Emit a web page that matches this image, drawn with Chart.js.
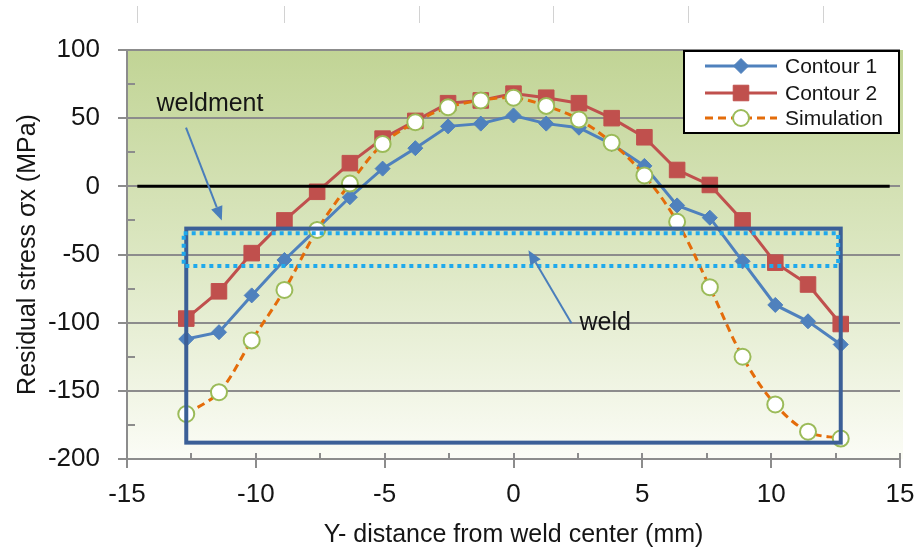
<!DOCTYPE html>
<html>
<head>
<meta charset="utf-8">
<title>Residual stress across weld</title>
<script src="https://cdn.jsdelivr.net/npm/chart.js@4.4.1/dist/chart.umd.min.js"></script>
<style>
  html, body { margin: 0; padding: 0; background: #fff; }
  #wrap { width: 917px; height: 560px; }
</style>
</head>
<body>
<div id="wrap"><canvas id="stressChart"></canvas></div>
<script>
// measurement positions across the plate (mm)
const distance = [-12.7, -11.43, -10.16, -8.89, -7.62, -6.35, -5.08, -3.81, -2.54, -1.27, 0,
                  1.27, 2.54, 3.81, 5.08, 6.35, 7.62, 8.89, 10.16, 11.43, 12.7];
// residual stress sigma-x (MPa)
const contour1 = [-112, -107, -80, -54, -31, -8, 13, 28, 44, 46, 52, 46, 43, 31, 15, -14, -23, -55, -87, -99, -116];
const contour2 = [-97, -77, -49, -25, -4, 17, 35, 48, 61, 63, 68, 65, 61, 50, 36, 12, 1, -25, -56, -72, -101];
const simulation = [-167, -151, -113, -76, -32, 2, 31, 47, 58, 63, 65, 59, 49, 32, 8, -26, -74, -125, -160, -180, -185];

const xTicks = [-15, -10, -5, 0, 5, 10, 15];
const yTicks = [-200, -150, -100, -50, 0, 50, 100];
const xMinorTicks = [-12.5, -7.5, -2.5, 2.5, 7.5, 12.5];
const yMinorTicks = [-175, -125, -75, -25, 25, 75];

const FONT = "'Liberation Sans', Arial, sans-serif";
const GREY = '#8c8c8c';
const TEXT = '#151515';

const toPoints = (ys) => distance.map((x, i) => ({ x: x, y: ys[i] }));

// shaded plot area plus the faint marks along the top edge
const plotBackground = {
  id: 'plotBackground',
  beforeDraw(chart) {
    const { ctx, chartArea: a } = chart;
    ctx.save();
    const g = ctx.createLinearGradient(0, a.top, 0, a.bottom);
    g.addColorStop(0, '#c1d495');
    g.addColorStop(0.5, '#dce7c2');
    g.addColorStop(1, '#fbfcf6');
    ctx.fillStyle = g;
    ctx.fillRect(a.left, a.top, a.right - a.left + 3, a.bottom - a.top);

    ctx.strokeStyle = '#d2d2d2';
    ctx.lineWidth = 1;
    [137, 284, 419, 553, 688, 823].forEach((px) => {
      ctx.beginPath();
      ctx.moveTo(px + 0.5, 6);
      ctx.lineTo(px + 0.5, 23);
      ctx.stroke();
    });
    ctx.restore();
  }
};

// minor tick marks, drawn inside the axes
const minorTicks = {
  id: 'minorTicks',
  beforeDatasetsDraw(chart) {
    const { ctx, scales: { x, y }, chartArea: a } = chart;
    ctx.save();
    ctx.strokeStyle = GREY;
    ctx.lineWidth = 2;
    ctx.beginPath();
    xMinorTicks.concat(xTicks).forEach((v) => {
      const px = Math.round(x.getPixelForValue(v));
      ctx.moveTo(px, a.bottom);
      ctx.lineTo(px, a.bottom - 6);
    });
    yMinorTicks.forEach((v) => {
      const py = Math.round(y.getPixelForValue(v));
      ctx.moveTo(a.left, py);
      ctx.lineTo(a.left + 8, py);
    });
    ctx.stroke();
    ctx.restore();
  }
};

function drawArrow(ctx, x1, y1, x2, y2) {
  const ang = Math.atan2(y2 - y1, x2 - x1);
  const head = 14, half = 6;
  const bx = x2 - head * Math.cos(ang);
  const by = y2 - head * Math.sin(ang);
  ctx.beginPath();
  ctx.moveTo(x1, y1);
  ctx.lineTo(bx, by);
  ctx.stroke();
  ctx.beginPath();
  ctx.moveTo(x2, y2);
  ctx.lineTo(bx + half * Math.sin(ang), by - half * Math.cos(ang));
  ctx.lineTo(bx - half * Math.sin(ang), by + half * Math.cos(ang));
  ctx.closePath();
  ctx.fill();
}

function drawMarker(ctx, ds, cx, cy) {
  const r = ds.pointRadius;
  ctx.save();
  ctx.setLineDash([]);
  ctx.fillStyle = ds.pointBackgroundColor;
  ctx.strokeStyle = ds.pointBorderColor;
  ctx.lineWidth = ds.pointBorderWidth;
  ctx.beginPath();
  if (ds.pointStyle === 'rectRot') {
    ctx.moveTo(cx - r, cy);
    ctx.lineTo(cx, cy - r);
    ctx.lineTo(cx + r, cy);
    ctx.lineTo(cx, cy + r);
    ctx.closePath();
  } else if (ds.pointStyle === 'rect') {
    const s = r * Math.SQRT1_2;
    ctx.rect(cx - s, cy - s, 2 * s, 2 * s);
  } else {
    ctx.arc(cx, cy, r, 0, Math.PI * 2);
  }
  ctx.fill();
  ctx.stroke();
  ctx.restore();
}

// zero line, weld / weldment outlines, callouts and the legend box
const overlays = {
  id: 'overlays',
  afterDatasetsDraw(chart) {
    const { ctx, scales: { x, y }, chartArea: a } = chart;
    const X = (v) => x.getPixelForValue(v);
    const Y = (v) => y.getPixelForValue(v);
    ctx.save();

    // zero stress line
    ctx.strokeStyle = '#000';
    ctx.lineWidth = 3;
    ctx.beginPath();
    ctx.moveTo(X(-14.6), Y(0));
    ctx.lineTo(X(14.6), Y(0));
    ctx.stroke();

    // weldment outline
    ctx.strokeStyle = '#3b5f97';
    ctx.lineWidth = 4;
    ctx.strokeRect(X(-12.7), Y(-31), X(12.7) - X(-12.7), Y(-188) - Y(-31));

    // weld outline, dotted
    ctx.strokeStyle = '#1fa9ec';
    ctx.lineWidth = 4;
    ctx.setLineDash([4, 4]);
    ctx.strokeRect(X(-12.8), Y(-34.5), X(12.6) - X(-12.8), Y(-58.5) - Y(-34.5));
    ctx.setLineDash([]);

    // callouts
    ctx.strokeStyle = '#4a7ebb';
    ctx.fillStyle = '#4a7ebb';
    ctx.lineWidth = 2;
    drawArrow(ctx, X(-12.71), Y(43), X(-11.32), Y(-25));
    drawArrow(ctx, X(2.25), Y(-100.4), X(0.58), Y(-46.9));

    ctx.fillStyle = TEXT;
    ctx.font = '25px ' + FONT;
    ctx.textBaseline = 'middle';
    ctx.textAlign = 'center';
    ctx.fillText('weldment', X(-11.78), Y(60));
    ctx.textAlign = 'left';
    ctx.fillText('weld', X(2.56), Y(-100.4));

    // legend
    const lx = a.right - 216, ly = a.top + 1, lw = 215, lh = 82;
    ctx.fillStyle = '#fff';
    ctx.fillRect(lx, ly, lw, lh);
    ctx.strokeStyle = '#000';
    ctx.lineWidth = 2;
    ctx.strokeRect(lx, ly, lw, lh);
    const rows = [ly + 15, ly + 42, ly + 67];
    chart.data.datasets.forEach((ds, i) => {
      const cy = rows[i];
      ctx.strokeStyle = ds.borderColor;
      ctx.lineWidth = ds.borderWidth;
      ctx.setLineDash(ds.borderDash || []);
      ctx.beginPath();
      ctx.moveTo(lx + 21, cy);
      ctx.lineTo(lx + 93, cy);
      ctx.stroke();
      ctx.setLineDash([]);
      drawMarker(ctx, ds, lx + 57, cy);
      ctx.fillStyle = TEXT;
      ctx.font = '21px ' + FONT;
      ctx.textAlign = 'left';
      ctx.textBaseline = 'middle';
      ctx.fillText(ds.label, lx + 101, cy + 1);
    });
    ctx.restore();
  }
};

new Chart(document.getElementById('stressChart'), {
  type: 'line',
  data: {
    datasets: [
      {
        label: 'Contour 1',
        data: toPoints(contour1),
        borderColor: '#4f81bd',
        borderWidth: 3,
        pointStyle: 'rectRot',
        pointRadius: 7.5,
        pointBackgroundColor: '#4f81bd',
        pointBorderColor: '#4f81bd',
        pointBorderWidth: 1,
        tension: 0,
        order: 3,
      },
      {
        label: 'Contour 2',
        data: toPoints(contour2),
        borderColor: '#c0504d',
        borderWidth: 3,
        pointStyle: 'rect',
        pointRadius: 11,
        pointBackgroundColor: '#c0504d',
        pointBorderColor: '#c0504d',
        pointBorderWidth: 1,
        tension: 0,
        order: 2,
      },
      {
        label: 'Simulation',
        data: toPoints(simulation),
        borderColor: '#e46c0a',
        borderWidth: 3,
        borderDash: [8, 5],
        pointStyle: 'circle',
        pointRadius: 8,
        pointBackgroundColor: '#ffffff',
        pointBorderColor: '#9bbb59',
        pointBorderWidth: 2,
        tension: 0.35,
        order: 1,
      },
    ],
  },
  options: {
    responsive: true,
    maintainAspectRatio: false,
    animation: false,
    layout: { padding: { top: 50, right: 17, left: 0, bottom: 0 } },
    plugins: {
      legend: { display: false },
      tooltip: { enabled: false },
    },
    scales: {
      x: {
        type: 'linear',
        min: -15,
        max: 15,
        afterBuildTicks: (s) => { s.ticks = xTicks.map((v) => ({ value: v })); },
        afterFit: (s) => { s.height = 101; s.paddingLeft = 0; s.paddingRight = 0; },
        grid: { drawOnChartArea: false, drawTicks: true, tickLength: 9, color: GREY, lineWidth: 2 },
        border: { display: true, color: GREY, width: 2 },
        ticks: { font: { family: FONT, size: 26 }, color: TEXT, padding: 11, maxRotation: 0 },
        title: {
          display: true,
          text: 'Y- distance from weld center (mm)',
          font: { family: FONT, size: 25 },
          color: TEXT,
          padding: { top: 0, bottom: 10 },
        },
      },
      y: {
        type: 'linear',
        min: -200,
        max: 100,
        afterBuildTicks: (s) => { s.ticks = yTicks.map((v) => ({ value: v })); },
        afterFit: (s) => { s.width = 127; s.paddingTop = 0; s.paddingBottom = 0; },
        grid: { color: GREY, lineWidth: 2, tickLength: 9 },
        border: { display: true, color: GREY, width: 2 },
        ticks: { font: { family: FONT, size: 26 }, color: TEXT, padding: 18 },
        title: {
          display: true,
          text: 'Residual stress σx (MPa)',
          font: { family: FONT, size: 25 },
          color: TEXT,
          padding: { top: 13, bottom: 0 },
        },
      },
    },
  },
  plugins: [plotBackground, minorTicks, overlays],
});
</script>
</body>
</html>
